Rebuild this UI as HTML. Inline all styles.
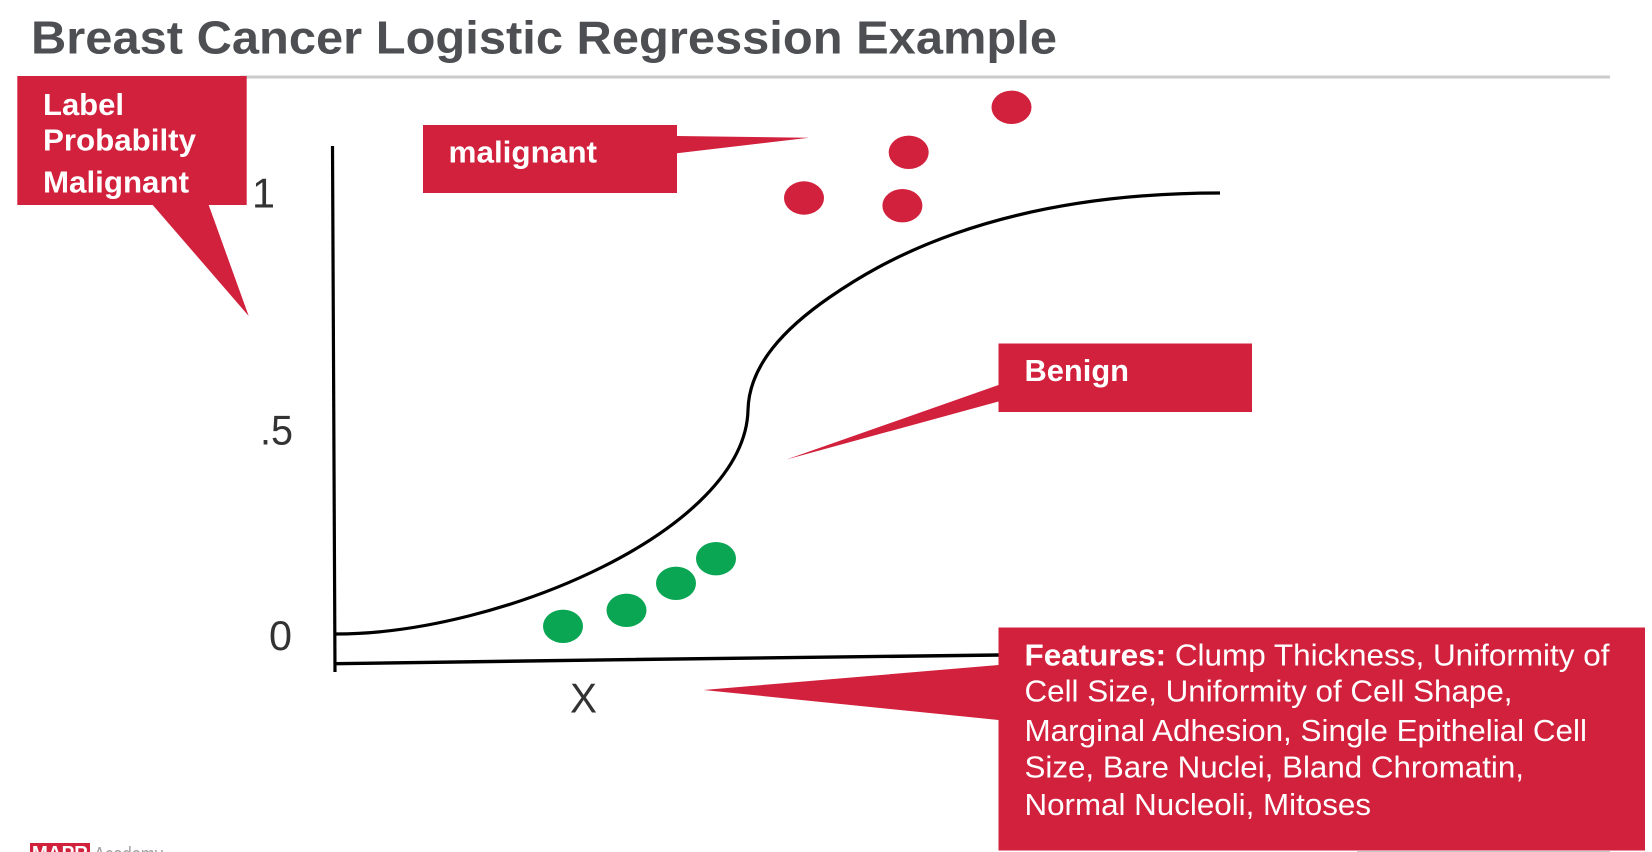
<!DOCTYPE html>
<html lang="en">
<head>
<meta charset="utf-8">
<title>Breast Cancer Logistic Regression Example</title>
<style>
html,body{margin:0;padding:0;background:#fff;width:1652px;height:852px;overflow:hidden}
svg{display:block}
text{font-family:"Liberation Sans",Arial,sans-serif}
.w{fill:#fff;font-size:30.5px}
.b{font-weight:700}
.n{fill:#333;font-size:42px}
</style>
</head>
<body>
<svg width="1652" height="852" viewBox="0 0 1652 852" xmlns="http://www.w3.org/2000/svg">
<rect width="1652" height="852" fill="#fff"/>

<text x="31" y="53.5" font-size="46" font-weight="700" fill="#4d4f53" textLength="1026" lengthAdjust="spacingAndGlyphs">Breast Cancer Logistic Regression Example</text>
<rect x="240" y="75.5" width="1370" height="3" fill="#cbcbcb"/>

<path d="M332.5 146 L335 672" stroke="#000" stroke-width="3.2" fill="none"/>
<path d="M335 663.7 C 550 661, 800 656.5, 1000 655" stroke="#000" stroke-width="3.4" fill="none"/>
<path d="M336 634 C 500 634, 745 530, 748 410 C 749 365, 785 328, 830 297 C 875 266, 990 193, 1220 193" stroke="#000" stroke-width="3.2" fill="none"/>

<text class="n" x="252" y="207.5" textLength="23" lengthAdjust="spacingAndGlyphs">1</text>
<text class="n" x="260" y="444.5" textLength="33" lengthAdjust="spacingAndGlyphs">.5</text>
<text class="n" x="269" y="650" textLength="23" lengthAdjust="spacingAndGlyphs">0</text>
<text class="n" x="570" y="712.5" textLength="27" lengthAdjust="spacingAndGlyphs">X</text>

<g fill="#d2213d">
<path d="M17.3 76 H246.7 V205 H208.7 L248.7 316 L152.7 205 H17.3 Z"/>
<path d="M423 125 H677 V136 L809 137.7 L677 153.3 V193 H423 Z"/>
<path d="M998.5 343.5 H1252 V412 H998.5 V401.5 L786.5 459.5 L998.5 385 Z"/>
<path d="M998.5 627.5 H1645 V850.5 H998.5 V720 L703.5 690 L998.5 665 Z"/>
<ellipse cx="1011.5" cy="107.3" rx="20" ry="16.7"/>
<ellipse cx="908.7" cy="152.3" rx="20" ry="16.7"/>
<ellipse cx="902.4" cy="205.7" rx="20" ry="16.7"/>
<ellipse cx="804" cy="198" rx="20" ry="16.7"/>
</g>

<g fill="#0aa654">
<ellipse cx="563" cy="626.3" rx="20" ry="16.7"/>
<ellipse cx="626.5" cy="610.3" rx="20" ry="16.7"/>
<ellipse cx="676" cy="583.3" rx="20" ry="16.7"/>
<ellipse cx="716" cy="558.7" rx="20" ry="16.7"/>
</g>

<text class="w b" x="43" y="115" textLength="81" lengthAdjust="spacingAndGlyphs">Label</text>
<text class="w b" x="43" y="150.5" textLength="153" lengthAdjust="spacingAndGlyphs">Probabilty</text>
<text class="w b" x="43" y="192.5" textLength="146" lengthAdjust="spacingAndGlyphs">Malignant</text>
<text class="w b" x="448.5" y="162.5" textLength="148.5" lengthAdjust="spacingAndGlyphs">malignant</text>
<text class="w b" x="1024.5" y="381" textLength="104.5" lengthAdjust="spacingAndGlyphs">Benign</text>

<text class="w" x="1024.5" y="665.5" textLength="585" lengthAdjust="spacingAndGlyphs"><tspan font-weight="700">Features:</tspan> Clump Thickness, Uniformity of</text>
<text class="w" x="1024.5" y="701.5" textLength="488" lengthAdjust="spacingAndGlyphs">Cell Size, Uniformity of Cell Shape,</text>
<text class="w" x="1024.5" y="741" textLength="562.5" lengthAdjust="spacingAndGlyphs">Marginal Adhesion, Single Epithelial Cell</text>
<text class="w" x="1024.5" y="777.5" textLength="499.5" lengthAdjust="spacingAndGlyphs">Size, Bare Nuclei, Bland Chromatin,</text>
<text class="w" x="1024.5" y="815" textLength="346.5" lengthAdjust="spacingAndGlyphs">Normal Nucleoli, Mitoses</text>

<rect x="30" y="843" width="60" height="9" fill="#d2213d"/>
<text x="32" y="860" font-size="20" font-weight="700" fill="#fff" textLength="56" lengthAdjust="spacingAndGlyphs">MAPR</text>
<text x="94" y="861" font-size="20" fill="#a0a0a0" textLength="69" lengthAdjust="spacingAndGlyphs">Academy</text>
<rect x="1357" y="851" width="253" height="1" fill="#c8c8c8"/>
</svg>
</body>
</html>
